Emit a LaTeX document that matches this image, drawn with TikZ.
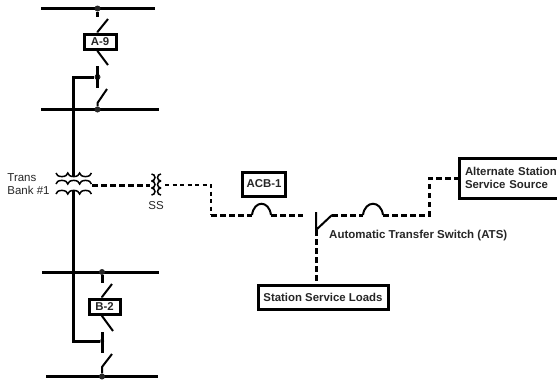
\documentclass[tikz,border=0pt]{standalone}
\usepackage{fontspec}
\setmainfont{Liberation Sans}
\usetikzlibrary{positioning}

\tikzset{
    bus/.style={line width=3pt},
    wire/.style={line width=3pt},
    blade/.style={line width=2pt},
    thickdash/.style={line width=3pt,dash pattern=on 5.5pt off 3.5pt},
    thindash/.style={line width=2pt,dash pattern=on 4pt off 3.5pt},
    coil/.style={line width=1.5pt},
    tag/.style={draw,line width=3pt,font=\bfseries\fontsize{11.4}{13.5}\selectfont,text=black!85,inner sep=0pt},
    plain/.style={font=\fontsize{11.5}{12.5}\selectfont,text=black!85,inner sep=0pt},
    blob/.style={circle,fill=black!85,inner sep=0pt,minimum size=6pt}
}

\begin{document}
\begin{tikzpicture}[x=1pt,y=-1pt]
    \useasboundingbox (0,0) rectangle (557,381);

    % buses
    \coordinate (bus_1l) at (41,8.5);   \coordinate (bus_1r) at (155,8.5);
    \coordinate (bus_2l) at (41,109.5); \coordinate (bus_2r) at (159,109.5);
    \coordinate (bus_3l) at (42,272);   \coordinate (bus_3r) at (159,272);
    \coordinate (bus_4l) at (46,376.5); \coordinate (bus_4r) at (158,376.5);
    \draw[bus] (bus_1l) -- (bus_1r);
    \draw[bus] (bus_2l) -- (bus_2r);
    \draw[bus] (bus_3l) -- (bus_3r);
    \draw[bus] (bus_4l) -- (bus_4r);

    % upper bay
    \node[blob] (d_1) at (97.5,8.5) {};
    \node[blob] (d_2) at (97.5,77) {};
    \node[blob] (d_3) at (97.5,109.5) {};
    \node[tag,minimum width=32pt,minimum height=15pt] (a9) at (100,41.5) {A-9};
    \coordinate (a_1) at (97.5,17);
    \coordinate (a_2) at (108,19);
    \coordinate (a_3) at (97.5,32);
    \coordinate (a_4) at (108,65);
    \coordinate (a_5) at (97.5,51);
    \coordinate (a_6) at (97.5,66);
    \coordinate (a_7) at (97.5,88);
    \coordinate (a_8) at (107,89);
    \coordinate (a_9) at (97.5,103);
    \draw[wire] (d_1) -- (a_1);
    \draw[blade] (a_2) -- (a_3) -- (a9.north -| a_3);
    \draw[blade] (a9.south -| a_5) -- (a_5) -- (a_4);
    \draw[wire] (a_6) -- (a_7);
    \draw[blade] (a_8) -- (a_9) -- (d_3);

    % lower bay
    \node[blob] (d_4) at (102,272) {};
    \node[blob] (d_5) at (102,376.5) {};
    \node[tag,minimum width=31pt,minimum height=15pt] (b2) at (104.5,306.5) {B-2};
    \coordinate (b_1) at (102,283);
    \coordinate (b_2) at (112,284);
    \coordinate (b_3) at (102,297);
    \coordinate (b_4) at (113,331);
    \coordinate (b_5) at (102,316);
    \coordinate (b_6) at (102,332);
    \coordinate (b_7) at (102,353);
    \coordinate (b_8) at (112,354);
    \coordinate (b_9) at (102,367);
    \node[blob,minimum size=4.5pt,fill=black!55] (d_6) at (102,341) {};
    \draw[wire] (d_4) -- (b_1);
    \draw[blade] (b_2) -- (b_3) -- (b2.north -| b_3);
    \draw[blade] (b2.south -| b_5) -- (b_5) -- (b_4);
    \draw[wire] (b_6) -- (b_7);
    \draw[blade] (b_8) -- (b_9) -- (d_5);

    % main vertical
    \coordinate (v_1) at (73,77);
    \coordinate (v_2) at (73,341);
    \coordinate (t_t) at (73,176);
    \coordinate (t_b) at (73,190);
    \draw[wire] (d_2) -- (v_1) -- (t_t);
    \draw[wire] (t_b) -- (v_2) -- (d_6);

    % trans bank windings
    \draw[coil] (56,173)
        arc[start angle=180,end angle=360,x radius=5.9pt,y radius=3.6pt]
        arc[start angle=180,end angle=360,x radius=5.9pt,y radius=3.6pt]
        arc[start angle=180,end angle=360,x radius=5.9pt,y radius=3.6pt];
    \foreach \yy in {184,194}
        \draw[coil] (56,\yy)
            arc[start angle=180,end angle=0,x radius=5.9pt,y radius=3.6pt]
            arc[start angle=180,end angle=0,x radius=5.9pt,y radius=3.6pt]
            arc[start angle=180,end angle=0,x radius=5.9pt,y radius=3.6pt];
    \node[plain,align=left] (trans) at (28.5,184) {Trans\\Bank \#1};

    % SS windings
    \foreach \yy in {174,181,188}
        \draw[coil] (151.5,\yy) arc[start angle=90,end angle=-90,x radius=3.5pt,y radius=3.5pt];
    \foreach \yy in {174,181,188}
        \draw[coil] (161,\yy) arc[start angle=90,end angle=270,x radius=3.5pt,y radius=3.5pt];
    \node[plain] (ss) at (156,206) {SS};

    % station service
    \node[tag,minimum width=43pt,minimum height=24pt] (acb) at (264,184) {ACB-1};
    \node[tag,minimum width=130pt,minimum height=24pt] (loads) at (323,297) {Station Service Loads};
    \node[tag,minimum width=104pt,minimum height=40pt,align=left,anchor=west,text width=92pt,inner xsep=5pt] (alt) at (457.5,178) {Alternate Station\\Service Source};
    \node[plain,font=\bfseries\fontsize{11.5}{13}\selectfont,anchor=west] (ats) at (329,236) {Automatic Transfer Switch (ATS)};

    \coordinate (t_r) at (92,185);
    \coordinate (s_l) at (150,185);
    \coordinate (s_r) at (165,185);
    \coordinate (c_1) at (211,185);
    \coordinate (c_2) at (211,215);
    \coordinate (k_1) at (252,215);
    \coordinate (k_2) at (271,215);
    \coordinate (k_3) at (303,215);
    \coordinate (w_1) at (316,212);
    \coordinate (w_2) at (316,230);
    \coordinate (w_3) at (332,215);
    \coordinate (m_1) at (363,215);
    \coordinate (m_2) at (383,215);
    \coordinate (c_3) at (429,215);
    \coordinate (c_4) at (429,178);

    \draw[thickdash] (t_r) -- (s_l);
    \draw[thindash] (s_r) -- (c_1) -- (c_2);
    \draw[thickdash] (c_2) -- (k_1);
    \draw[blade] (k_1) ..  controls (254,200) and (269,200) .. (k_2);
    \draw[thickdash] (k_2) -- (k_3);
    \draw[blade] (w_1) -- (w_2) -- (w_3);
    \draw[thickdash] (w_3) -- (m_1);
    \draw[blade] (m_1) .. controls (365,200) and (381,200) .. (m_2);
    \draw[thickdash] (m_2) -- (c_3) -- (c_4) -- (alt.west);
    \draw[thickdash] (w_2) -- (loads.north -| w_2);
\end{tikzpicture}
\end{document}
